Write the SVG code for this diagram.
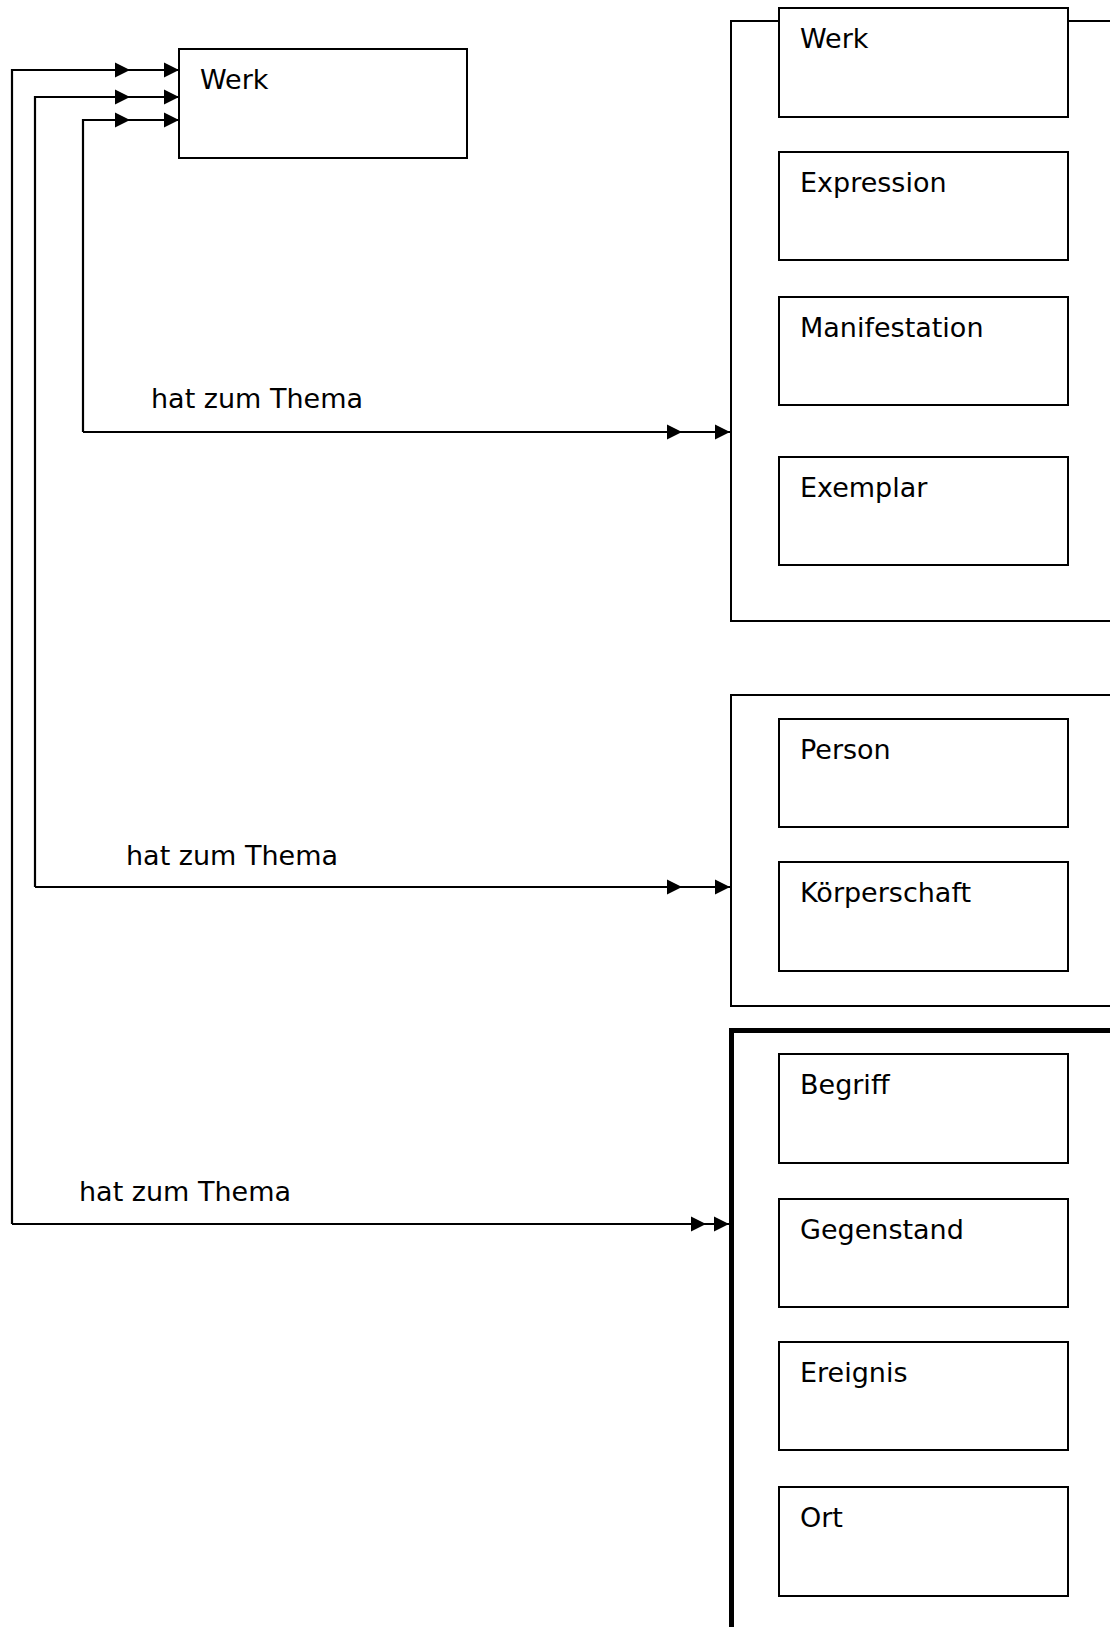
<svg xmlns="http://www.w3.org/2000/svg" xmlns:xlink="http://www.w3.org/1999/xlink" width="1110" height="1627" viewBox="0 0 1110 1627">
<style>
.box{fill:#fff;stroke:#000;stroke-width:2}
.frame{fill:none;stroke:#000;stroke-width:2}
.bold{fill:none;stroke:#000;stroke-width:5}
.ln{fill:none;stroke:#000;stroke-width:2.2}
text{font-family:"DejaVu Sans","Liberation Sans",sans-serif;font-size:27px;fill:#000}
</style>
<defs>
<path id="ah" d="M-15,-7.5 L0,0 L-15,7.5 Z" fill="#000"/>
</defs>
<rect width="1110" height="1627" fill="#fff"/>

<g id="frame-werkgruppe">
<path class="frame" d="M1112,21 H731 V621 H1112"/>
</g>
<g id="frame-personen">
<path class="frame" d="M1112,695 H731 V1006 H1112"/>
</g>
<g id="frame-sachen">
<path class="bold" d="M1112,1030.5 H731.5 V1630"/>
</g>

<g id="connectors">
<path class="ln" d="M12,1224 V70 H179"/>
<path class="ln" d="M12,1224 H730"/>
<path class="ln" d="M35,887 V97 H179"/>
<path class="ln" d="M35,887 H730"/>
<path class="ln" d="M83,432 V120 H179"/>
<path class="ln" d="M83,432 H730"/>
<use xlink:href="#ah" x="130" y="70"/>
<use xlink:href="#ah" x="179" y="70"/>
<use xlink:href="#ah" x="130" y="97"/>
<use xlink:href="#ah" x="179" y="97"/>
<use xlink:href="#ah" x="130" y="120"/>
<use xlink:href="#ah" x="179" y="120"/>
<use xlink:href="#ah" x="682" y="432"/>
<use xlink:href="#ah" x="730" y="432"/>
<use xlink:href="#ah" x="682" y="887"/>
<use xlink:href="#ah" x="730" y="887"/>
<use xlink:href="#ah" x="706" y="1224"/>
<use xlink:href="#ah" x="729" y="1224"/>
<text x="151" y="408">hat zum Thema</text>
<text x="126" y="865">hat zum Thema</text>
<text x="79" y="1201">hat zum Thema</text>
</g>

<g id="werk-links"><rect class="box" x="179" y="49" width="288" height="109"/><text x="200" y="89">Werk</text></g>
<g id="werk"><rect class="box" x="779" y="8" width="289" height="109"/><text x="800" y="48">Werk</text></g>
<g id="expression"><rect class="box" x="779" y="152" width="289" height="108"/><text x="800" y="192">Expression</text></g>
<g id="manifestation"><rect class="box" x="779" y="297" width="289" height="108"/><text x="800" y="337">Manifestation</text></g>
<g id="exemplar"><rect class="box" x="779" y="457" width="289" height="108"/><text x="800" y="497">Exemplar</text></g>
<g id="person"><rect class="box" x="779" y="719" width="289" height="108"/><text x="800" y="759">Person</text></g>
<g id="koerperschaft"><rect class="box" x="779" y="862" width="289" height="109"/><text x="800" y="902">Körperschaft</text></g>
<g id="begriff"><rect class="box" x="779" y="1054" width="289" height="109"/><text x="800" y="1094">Begriff</text></g>
<g id="gegenstand"><rect class="box" x="779" y="1199" width="289" height="108"/><text x="800" y="1239">Gegenstand</text></g>
<g id="ereignis"><rect class="box" x="779" y="1342" width="289" height="108"/><text x="800" y="1382">Ereignis</text></g>
<g id="ort"><rect class="box" x="779" y="1487" width="289" height="109"/><text x="800" y="1527">Ort</text></g>
</svg>
